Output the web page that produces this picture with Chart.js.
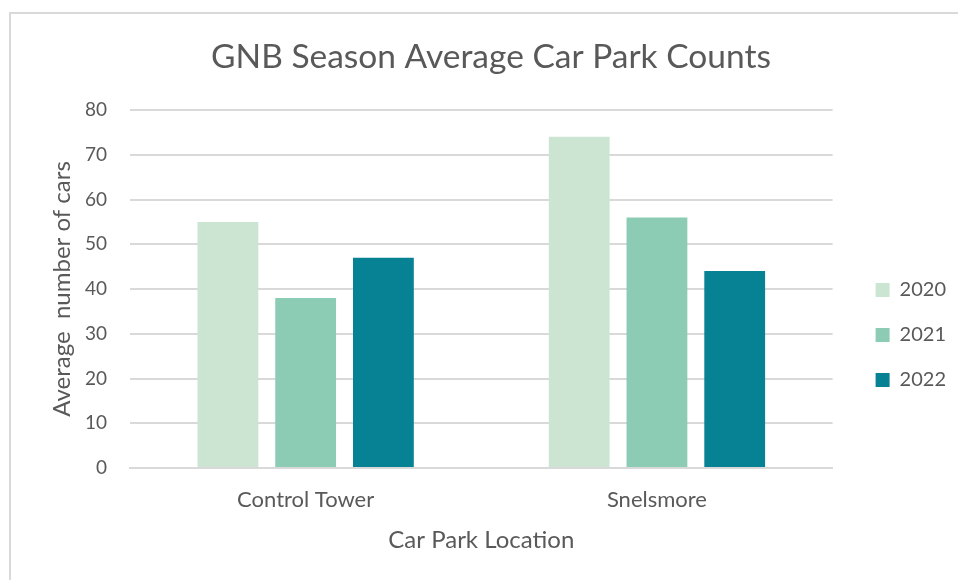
<!DOCTYPE html>
<html>
<head>
<meta charset="utf-8">
<title>GNB Season Average Car Park Counts</title>
<script src="https://cdn.jsdelivr.net/npm/chart.js@4"></script>
<style>
  html, body { margin: 0; padding: 0; background: #fff; overflow: hidden; }
  .frame {
    position: absolute; left: 9px; top: 12px;
    width: 1000px; height: 600px;
    border-left: 2px solid #d9d9d9; border-top: 2px solid #d9d9d9;
  }
  #myChart { position: absolute; left: 26px; top: 14px; display: block; }
</style>
</head>
<body>
<div class="frame"></div>
<canvas id="myChart" width="930" height="546"></canvas>
<script>
(function() {

"use strict";

var locations = ['Control Tower', 'Snelsmore'];
var seasons = ['2020', '2021', '2022'];
var counts2020 = [55, 74];
var counts2021 = [38, 56];
var counts2022 = [47, 44];
var yTicks = [0, 10, 20, 30, 40, 50, 60, 70, 80];

var colors = ['#cce5d2', '#8ccbb4', '#078294'];
var textColor = '#595959';
var gridColor = '#d9d9d9';
var font = 'Lato';

var seriesValues = [counts2020, counts2021, counts2022];

var datasets = seasons.map(function(label, i) {
	return {
		label: label,
		data: seriesValues[i],
		backgroundColor: colors[i],
		borderWidth: 0,
		categoryPercentage: 0.664,
		barPercentage: 0.782
	};
});

var ctx = document.getElementById('myChart').getContext('2d');

var myChart = new Chart(ctx, {
	type: 'bar',
	data: {
		labels: locations,
		datasets: datasets
	},
	options: {
		responsive: false,
		animation: false,
		layout: { padding: 0 },
		plugins: {
			title: {
				display: true,
				text: 'GNB Season Average Car Park Counts',
				color: textColor,
				font: { family: font, size: 33.5, weight: 'normal' },
				padding: { top: 23, bottom: 32.8 }
			},
			legend: {
				position: 'right',
				// blank legend title, pushes the entries down beside the bars
				title: {
					display: true,
					text: '',
					font: { family: font, size: 10 },
					padding: { top: 84, bottom: 0 }
				},
				labels: {
					color: textColor,
					font: { family: font, size: 20 },
					boxWidth: 14,
					boxHeight: 14,
					padding: 25
				}
			},
			tooltip: { enabled: false }
		},
		scales: {
			x: {
				grid: { display: false, drawTicks: false },
				border: { display: true, color: gridColor, width: 2 },
				ticks: {
					color: textColor,
					font: { family: font, size: 22 },
					padding: 19
				},
				title: {
					display: true,
					text: 'Car Park Location',
					color: textColor,
					font: { family: font, size: 24 },
					padding: { top: 0, bottom: 5.6 }
				},
				afterFit: function(scale) { scale.height = 92; }
			},
			y: {
				min: 0,
				max: 80,
				afterBuildTicks: function(scale) {
					scale.ticks = yTicks.map(function(v) { return { value: v }; });
				},
				grid: { color: gridColor, lineWidth: 2, drawTicks: false },
				border: { display: false },
				ticks: {
					color: textColor,
					font: { family: font, size: 19 },
					padding: 23
				},
				title: {
					display: true,
					text: 'Average  number of cars',
					color: textColor,
					font: { family: font, size: 24 },
					padding: { top: 21.6, bottom: 0 }
				},
				afterFit: function(scale) { scale.width = 104; }
			},
			// empty axis that only keeps a gap between the plot and the legend
			spacer: {
				type: 'linear',
				position: 'right',
				display: true,
				grid: { display: false },
				border: { display: false },
				ticks: { display: false },
				afterFit: function(scale) { scale.width = 18; }
			}
		}
	}
});

})();
</script>
</body>
</html>
